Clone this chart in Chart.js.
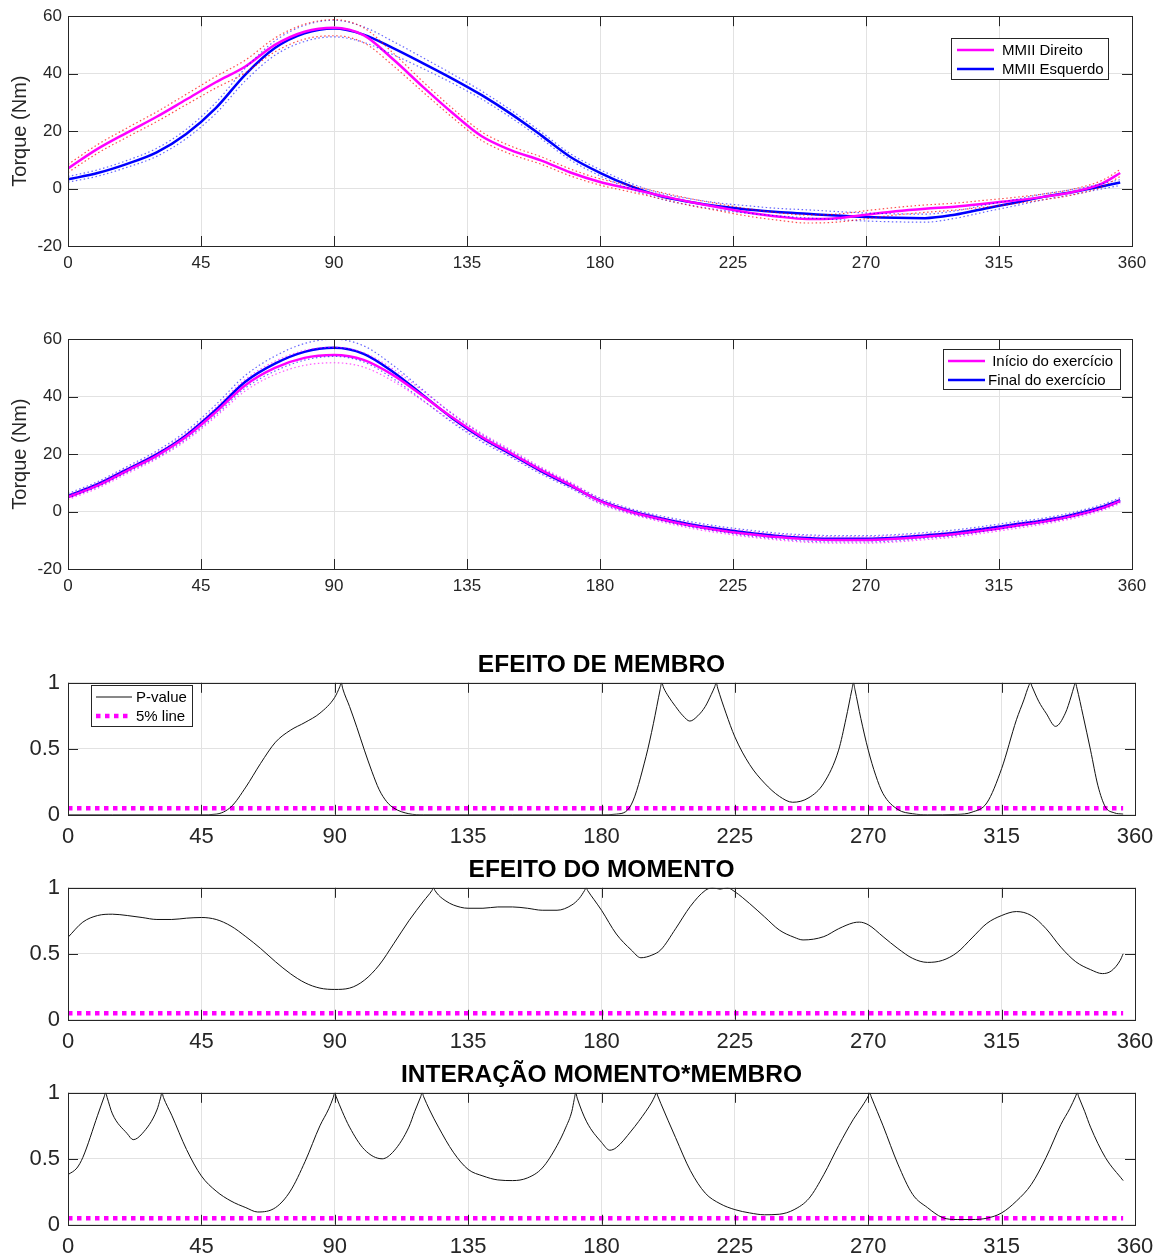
<!DOCTYPE html>
<html>
<head>
<meta charset="utf-8">
<script src="https://cdn.jsdelivr.net/npm/chart.js@4.4.1/dist/chart.umd.min.js"></script>
<style>
  html, body { margin: 0; padding: 0; background: #fff; overflow: hidden; }
  #wrap { position: relative; width: 1164px; height: 1254px; }
  canvas { position: absolute; left: 0; }
</style>
</head>
<body>
<div id="wrap">
  <canvas id="torque1" width="1164" height="280" style="top:0px"></canvas>
  <canvas id="torque2" width="1164" height="280" style="top:323px"></canvas>
  <canvas id="pMembro" width="1164" height="215" style="top:640px"></canvas>
  <canvas id="pMomento" width="1164" height="215" style="top:845px"></canvas>
  <canvas id="pInteracao" width="1164" height="215" style="top:1050px"></canvas>
</div>
<script>
// ---- data ----
const degTicks = [0, 45, 90, 135, 180, 225, 270, 315, 360]
const torqueTicks = [-20, 0, 20, 40, 60]
const pTicks = [0, 0.5, 1]

const degTorque = [0,10,20,30,40,50,60,70,80,90,100,110,120,130,140,150,160,170,180,190,200,210,220,230,240,250,260,270,280,290,300,310,320,330,340,350,356]

// MMII Direito / Esquerdo (mean and SD)
const direitoMean = [7,13.8,19.5,25,31,37,42.5,50,54.6,56,53.4,45,35.5,26.4,18.2,13.3,9.8,5.6,2.3,0,-2.3,-4.6,-6.5,-8.3,-9.7,-10.6,-10.3,-9.1,-7.9,-7,-6.3,-5.3,-4.2,-2.9,-1.2,1.8,5.4]
const direitoSd = [1.4,1.5,1.6,1.7,1.8,2,2.2,2.4,2.6,2.8,2.6,2.2,1.8,1.6,1.5,1.4,1.3,1.2,1.1,1.1,1.1,1.2,1.2,1.3,1.3,1.4,1.4,1.4,1.3,1.3,1.2,1.2,1.1,1,1,1.1,1.2]
const esquerdoMean = [3.2,5.4,8.6,12.6,19,28,39.7,48.9,54,55.7,53.6,48.9,43.7,38.3,32.5,25.9,18.6,11,5.5,1,-2.5,-4.6,-6.2,-7.3,-8.2,-8.8,-9.4,-9.9,-10.2,-10.3,-9.1,-7,-5,-2.9,-1.2,0.8,2.1]
const esquerdoSd = [1,1.1,1.2,1.4,1.6,1.9,2.2,2.5,2.8,2.9,2.7,2.3,1.9,1.6,1.4,1.3,1.2,1.1,1.1,1,1,1.1,1.2,1.3,1.3,1.4,1.4,1.4,1.4,1.4,1.3,1.2,1.1,1,0.9,0.9,1]

// Inicio / Final do exercicio (mean and SD)
const inicioMean = [5,9,14.2,19.4,26,34.6,44,50,53.5,54.5,52.8,47.5,40.3,32.8,26,20.3,14.5,9.3,3.6,0,-2.6,-4.8,-6.5,-7.8,-8.9,-9.6,-9.9,-9.9,-9.5,-8.8,-7.9,-6.6,-5.1,-3.6,-1.6,1.2,3.6]
const inicioSd = [0.8,0.9,1,1.1,1.3,1.6,2,2.3,2.6,2.7,2.5,2.1,1.7,1.4,1.2,1.1,1,0.9,0.9,0.8,0.8,0.9,0.9,1,1,1.1,1.1,1.1,1.1,1,1,0.9,0.9,0.8,0.8,0.8,0.8]
const finalMean = [5.5,9.5,14.7,19.9,26.6,35.4,45.2,51.5,55.6,57,54.9,48.6,40.6,32.5,25.6,19.9,14.1,9,3.8,0.3,-2.2,-4.3,-6,-7.4,-8.5,-9.2,-9.5,-9.5,-9.1,-8.3,-7.4,-6,-4.5,-3.1,-1.1,1.7,4]
const finalSd = [0.8,0.9,1,1.2,1.4,1.8,2.2,2.6,2.9,3,2.8,2.3,1.8,1.5,1.3,1.1,1,0.9,0.9,0.8,0.8,0.9,0.9,1,1,1.1,1.1,1.1,1.1,1,1,0.9,0.9,0.8,0.8,0.8,0.8]

// p-values
const membroDeg = [0,15,30,45,50,55,60,65,70,75,80,85,90,91.7,92.2,92.7,95,97.5,100,102.5,105,107.5,110,115,120,150,180,185,190,195,197.5,199.8,200.3,201,202.5,205,207.5,209.8,212.5,215,217,218.2,218.7,219.2,222,225,230,235,240,244.5,250,255,260,262.5,264.5,265,265.5,267.5,270,272.5,275,280,285,290,300,305,310,315,320,322.5,324.2,324.7,325.2,327.5,330,333.2,336.5,338.5,339.4,339.9,340.4,342.5,345,347.5,350,353,356]
const membroP = [0,0,0,0,0.005,0.06,0.21,0.39,0.55,0.64,0.7,0.77,0.89,0.97,1,0.955,0.82,0.66,0.49,0.33,0.19,0.1,0.05,0.008,0,0,0,0.005,0.075,0.44,0.69,0.95,1,0.96,0.9,0.82,0.75,0.71,0.75,0.82,0.91,0.97,1,0.96,0.77,0.59,0.38,0.24,0.14,0.095,0.13,0.24,0.49,0.73,0.95,1,0.95,0.73,0.49,0.3,0.16,0.04,0.008,0,0.003,0.02,0.09,0.35,0.72,0.87,0.98,1,0.975,0.86,0.77,0.67,0.77,0.9,0.97,1,0.96,0.75,0.49,0.22,0.06,0.015,0.005]

const momentoDeg = [0,5,10,15,20,25,30,35,40,45,50,55,60,65,70,75,80,85,90,95,100,105,110,115,120,122.8,123.3,123.8,125,127.5,130,135,140,145,150,155,160,165,170,172.5,174.3,174.8,175.3,177.5,180,185,190,193.3,197,200,205,210,215,217.5,220,222.5,225,230,235,240,245,248,255,260,265,267,270,275,280,285,290,295,300,305,310,315,320,325,330,335,340,345,349,352,355,356]
const momentoP = [0.625,0.74,0.79,0.8,0.79,0.775,0.76,0.76,0.77,0.775,0.76,0.71,0.63,0.54,0.44,0.35,0.28,0.24,0.23,0.24,0.3,0.415,0.58,0.75,0.9,0.98,1,0.98,0.945,0.9,0.87,0.845,0.845,0.855,0.855,0.845,0.83,0.83,0.87,0.92,0.98,1,0.98,0.91,0.83,0.65,0.53,0.47,0.49,0.53,0.69,0.86,0.98,1,0.99,1,0.97,0.88,0.78,0.68,0.625,0.605,0.63,0.69,0.735,0.74,0.72,0.63,0.54,0.465,0.435,0.45,0.51,0.62,0.73,0.79,0.82,0.79,0.69,0.55,0.44,0.38,0.35,0.37,0.45,0.5]

const interacaoDeg = [0,3,5,10,12.2,12.7,13.2,15,20,22,25,30,31.2,31.7,32.2,35,40,45,50,55,60,64,70,75,80,85,88,89.5,90,90.5,92.5,95,100,106,110,115,117,119,119.5,120,122,125,130,135,140,145,150,155,160,165,168,170,170.8,171.3,171.8,175,180,182.8,185,190,195,197,198,198.5,199,200,205,210,215,220,225,230,235,240,245,250,255,260,265,268,270,270.5,271,273,275,280,285,290,295,300,305,310,315,320,325,330,335,338,340,340.5,341,343,345,350,356]
const interacaoP = [0.38,0.43,0.51,0.83,0.97,1,0.965,0.84,0.69,0.645,0.69,0.87,0.96,1,0.965,0.83,0.57,0.37,0.255,0.18,0.13,0.097,0.13,0.255,0.48,0.75,0.88,0.965,1,0.97,0.86,0.74,0.57,0.5,0.56,0.74,0.86,0.97,1,0.97,0.87,0.74,0.55,0.42,0.37,0.34,0.335,0.355,0.43,0.6,0.74,0.86,0.95,1,0.96,0.78,0.625,0.565,0.585,0.71,0.86,0.93,0.975,1,0.975,0.92,0.66,0.41,0.24,0.16,0.115,0.09,0.076,0.08,0.115,0.2,0.38,0.6,0.8,0.9,0.975,1,0.97,0.86,0.75,0.46,0.23,0.13,0.055,0.04,0.04,0.05,0.09,0.18,0.305,0.51,0.76,0.88,0.975,1,0.97,0.86,0.74,0.51,0.335]

const alphaLevel = 0.05
const alphaX = [0, 356]

// ---- helpers ----
const FONT = '"Liberation Sans", Arial, Helvetica, sans-serif'
const GRID = '#e2e2e2'
const AXIS = '#262626'
Chart.defaults.font.family = FONT
Chart.defaults.color = AXIS

function xy(xs, ys) { return xs.map((x, i) => ({x: x, y: ys[i]})) }
function band(mean, sd, sign) { return mean.map((m, i) => +(m + sign * sd[i]).toFixed(2)) }
function setTicks(list) { return s => { s.ticks = list.map(v => ({value: v})) } }

// MATLAB-like box with inward ticks on every side
const matlabAxes = {
  id: 'matlabAxes',
  afterDatasetsDraw(chart) {
    const ctx = chart.ctx, a = chart.chartArea, x = chart.scales.x, y = chart.scales.y
    ctx.save()
    ctx.strokeStyle = AXIS
    ctx.lineWidth = 1
    ctx.beginPath()
    x.ticks.forEach(t => {
      const px = Math.round(x.getPixelForValue(t.value)) + 0.5
      ctx.moveTo(px, a.top); ctx.lineTo(px, a.top + 10)
      ctx.moveTo(px, a.bottom); ctx.lineTo(px, a.bottom - 10)
    })
    y.ticks.forEach(t => {
      const py = Math.round(y.getPixelForValue(t.value)) + 0.5
      ctx.moveTo(a.left, py); ctx.lineTo(a.left + 10, py)
      ctx.moveTo(a.right, py); ctx.lineTo(a.right - 10, py)
    })
    ctx.stroke()
    ctx.strokeRect(Math.round(a.left) + 0.5, Math.round(a.top) + 0.5, Math.round(a.width), Math.round(a.height))
    ctx.restore()
  }
}

// boxed legend drawn inside the axes
function boxLegend(cfg) {
  return {
    id: 'boxLegend',
    afterDraw(chart) {
      const ctx = chart.ctx
      ctx.save()
      ctx.fillStyle = '#fff'
      ctx.fillRect(cfg.left, cfg.top, cfg.width, cfg.height)
      ctx.strokeStyle = AXIS
      ctx.lineWidth = 1
      ctx.strokeRect(cfg.left + 0.5, cfg.top + 0.5, cfg.width, cfg.height)
      ctx.font = '15px ' + FONT
      ctx.textBaseline = 'middle'
      cfg.items.forEach((idx, i) => {
        const ds = chart.data.datasets[idx]
        const yy = cfg.top + cfg.rows[i]
        ctx.beginPath()
        ctx.setLineDash(ds.borderDash || [])
        ctx.strokeStyle = ds.borderColor
        ctx.lineWidth = ds.borderWidth
        ctx.moveTo(cfg.left + cfg.lineX, yy)
        ctx.lineTo(cfg.left + cfg.lineX + cfg.lineLen, yy)
        ctx.stroke()
        ctx.setLineDash([])
        ctx.fillStyle = '#000'
        ctx.fillText(ds.label, cfg.left + cfg.textX[i], yy + 1)
      })
      ctx.restore()
    }
  }
}

function sdLine(label, xs, mean, sd, sign, color) {
  return {label: label, data: xy(xs, band(mean, sd, sign)), borderColor: color, borderWidth: 1.2, borderDash: [1.5, 2.5]}
}

function torqueChart(id, datasets, legendCfg) {
  return new Chart(document.getElementById(id), {
    type: 'line',
    data: {datasets: datasets},
    options: {
      responsive: false,
      animation: false,
      devicePixelRatio: 1,
      layout: {padding: {top: 15, right: 32, left: 0, bottom: 0}},
      elements: {point: {radius: 0}, line: {cubicInterpolationMode: 'monotone', fill: false}},
      plugins: {legend: {display: false}, tooltip: {enabled: false}},
      scales: {
        x: {
          type: 'linear', min: 0, max: 360,
          afterBuildTicks: setTicks(degTicks),
          afterFit: s => { s.height = 34 },
          grid: {color: GRID, drawTicks: false},
          border: {display: false},
          ticks: {font: {size: 17}, padding: 7, maxRotation: 0, autoSkip: false}
        },
        y: {
          min: -20, max: 60,
          afterBuildTicks: setTicks(torqueTicks),
          afterFit: s => { s.width = 68 },
          grid: {color: GRID, drawTicks: false},
          border: {display: false},
          title: {display: true, text: 'Torque (Nm)', font: {size: 20}, padding: {top: 8, bottom: 0}},
          ticks: {font: {size: 17}, padding: 6}
        }
      }
    },
    plugins: [matlabAxes, boxLegend(legendCfg)]
  })
}

function pChart(id, title, xs, ps, legendCfg) {
  const plugins = [matlabAxes]
  if (legendCfg) plugins.push(boxLegend(legendCfg))
  return new Chart(document.getElementById(id), {
    type: 'line',
    data: {
      datasets: [
        {label: 'P-value', data: xy(xs, ps), borderColor: '#111', borderWidth: 1, cubicInterpolationMode: 'monotone'},
        {label: '5% line', data: xy(alphaX, alphaX.map(() => alphaLevel)), borderColor: '#ff00ff', borderWidth: 4.5, borderDash: [4.5, 4.5]}
      ]
    },
    options: {
      responsive: false,
      animation: false,
      devicePixelRatio: 1,
      layout: {padding: {top: 0, right: 29, left: 0, bottom: 0}},
      elements: {point: {radius: 0}, line: {fill: false}},
      plugins: {
        legend: {display: false},
        tooltip: {enabled: false},
        title: {display: true, text: title, fullSize: false, color: '#000', font: {size: 24.5, weight: 'bold', lineHeight: 1.2}, padding: {top: 11, bottom: 2.4}}
      },
      scales: {
        x: {
          type: 'linear', min: 0, max: 360,
          afterBuildTicks: setTicks(degTicks),
          afterFit: s => { s.height = 40.2 },
          grid: {color: GRID, drawTicks: false},
          border: {display: false},
          ticks: {font: {size: 22}, padding: 9, maxRotation: 0, autoSkip: false}
        },
        y: {
          min: 0, max: 1,
          afterBuildTicks: setTicks(pTicks),
          afterFit: s => { s.width = 68 },
          grid: {color: GRID, drawTicks: false},
          border: {display: false},
          ticks: {font: {size: 22}, padding: 8, callback: v => String(v)}
        }
      }
    },
    plugins: plugins
  })
}

// ---- charts ----
torqueChart('torque1', [
  sdLine('Direito +SD', degTorque, direitoMean, direitoSd, 1, 'rgba(255,0,0,0.7)'),
  sdLine('Direito -SD', degTorque, direitoMean, direitoSd, -1, 'rgba(255,0,0,0.7)'),
  sdLine('Esquerdo +SD', degTorque, esquerdoMean, esquerdoSd, 1, 'rgba(0,0,255,0.6)'),
  sdLine('Esquerdo -SD', degTorque, esquerdoMean, esquerdoSd, -1, 'rgba(0,0,255,0.6)'),
  {label: 'MMII Direito', data: xy(degTorque, direitoMean), borderColor: '#ff00ff', borderWidth: 2.5},
  {label: 'MMII Esquerdo', data: xy(degTorque, esquerdoMean), borderColor: '#0000ff', borderWidth: 2.5}
], {left: 951, top: 38, width: 157, height: 41, rows: [12, 31], lineX: 6, lineLen: 37, textX: [51, 51], items: [4, 5]})

torqueChart('torque2', [
  sdLine('Inicio +SD', degTorque, inicioMean, inicioSd, 1, 'rgba(255,0,255,0.65)'),
  sdLine('Inicio -SD', degTorque, inicioMean, inicioSd, -1, 'rgba(255,0,255,0.65)'),
  sdLine('Final +SD', degTorque, finalMean, finalSd, 1, 'rgba(0,0,255,0.6)'),
  sdLine('Final -SD', degTorque, finalMean, finalSd, -1, 'rgba(0,0,255,0.6)'),
  {label: ' Início do exercício', data: xy(degTorque, inicioMean), borderColor: '#ff00ff', borderWidth: 2.5},
  {label: 'Final do exercício', data: xy(degTorque, finalMean), borderColor: '#0000ff', borderWidth: 2.5}
], {left: 943, top: 26, width: 177, height: 40, rows: [12, 31], lineX: 5, lineLen: 37, textX: [45, 45], items: [4, 5]})

pChart('pMembro', 'EFEITO DE MEMBRO', membroDeg, membroP,
  {left: 91, top: 45, width: 101, height: 41, rows: [12, 31], lineX: 5, lineLen: 36, textX: [45, 45], items: [0, 1]})
pChart('pMomento', 'EFEITO DO MOMENTO', momentoDeg, momentoP, null)
pChart('pInteracao', 'INTERAÇÃO MOMENTO*MEMBRO', interacaoDeg, interacaoP, null)
</script>
</body>
</html>
